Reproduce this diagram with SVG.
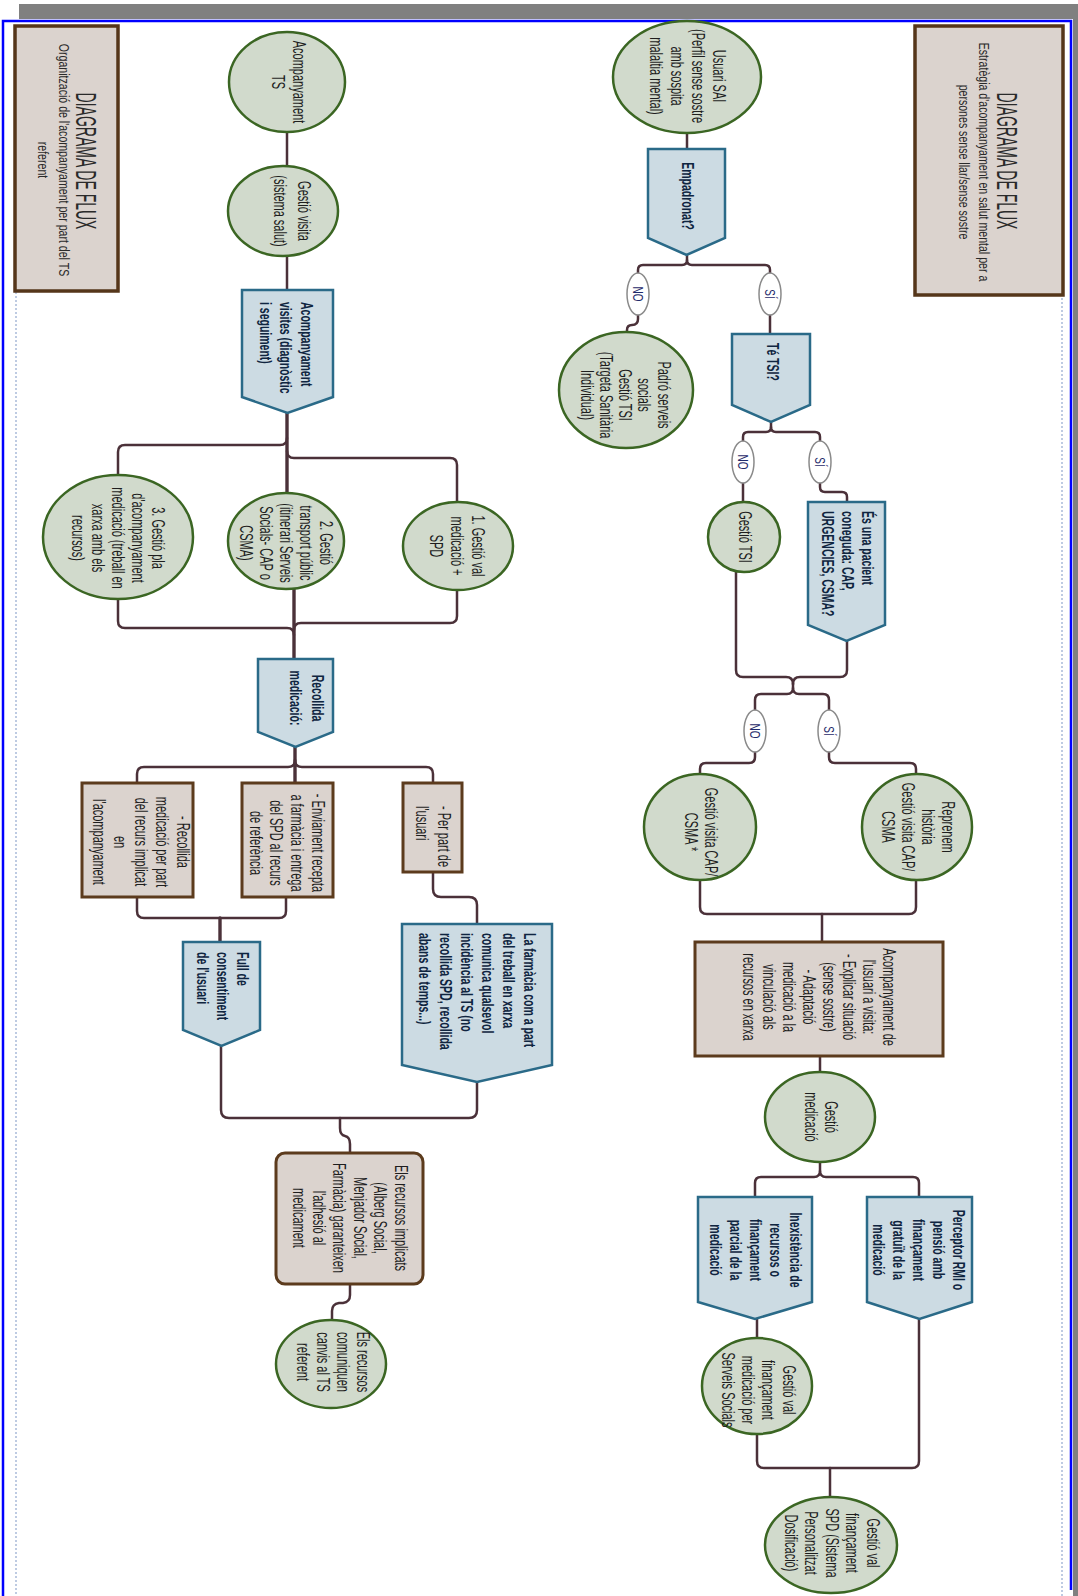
<svg xmlns="http://www.w3.org/2000/svg" width="1078" height="1596" viewBox="0 0 1078 1596">
<style>
.c{fill:#d1dacc;stroke:#3b6623;stroke-width:2.5}
.b{fill:#ccdbe3;stroke:#2a6a88;stroke-width:2.5}
.r{fill:#dbd3ce;stroke:#5c3b1d;stroke-width:3}
.h{fill:#dbd3ce;stroke:#55361a;stroke-width:3.5}
.l{fill:#fff;stroke:#8a8a8a;stroke-width:1.5}
.k{fill:none;stroke:#4b3139;stroke-width:2.5;stroke-linecap:round;stroke-linejoin:round}
.k2{fill:none;stroke:#4b3139;stroke-width:3.4;stroke-linecap:round}
text{font-family:"Liberation Sans",Arial,sans-serif;font-size:11px;fill:#1e1e1e;text-anchor:middle}
text.s{text-anchor:start}
text.bb{font-weight:bold;font-size:10.5px;fill:#0f2540}
text.lb{font-size:10px;fill:#1f2a6b}
text.tt{font-size:14px;fill:#2a2a2a}
text.st{font-size:10.6px;fill:#2a2a2a}
</style>
<rect x="19" y="4" width="1059" height="15" fill="#808080"/>
<rect x="1073" y="4" width="5" height="1592" fill="#808080"/>
<path d="M3,1596 V21 H1071 V1590" fill="none" stroke="#0000ff" stroke-width="2.5"/>
<line x1="16" y1="292" x2="16" y2="1596" stroke="#a9bbd9" stroke-width="1.5" stroke-dasharray="2 2"/>
<line x1="1062" y1="298" x2="1062" y2="1596" stroke="#a9bbd9" stroke-width="1.5" stroke-dasharray="2 2"/>

<g id="connectors">
<path class="k" d="M687,133 V149"/>
<path class="k" d="M687,255 V260 Q687,265 682,265 H643 Q638,265 638,270 V273"/>
<path class="k" d="M687,260 Q687,265 692,265 H765 Q770,265 770,270 V273"/>
<path class="k" d="M638,315 V319 Q638,325 632,325 Q627,325 627,330 V333"/>
<path class="k" d="M770,315 V334"/>
<path class="k" d="M771,422 V427 Q771,432 766,432 H748 Q743,432 743,437 V441"/>
<path class="k" d="M771,427 Q771,432 776,432 H815 Q820,432 820,437 V441"/>
<path class="k" d="M743,483 V502"/>
<path class="k" d="M820,483 V487 Q820,492 825,492 H842 Q847,492 847,497 V502"/>
<path class="k" d="M736,572 V670 Q736,677 743,677 H786 Q793,677 793,684"/>
<path class="k" d="M847,641 V670 Q847,677 840,677 H800 Q793,677 793,684"/>
<path class="k" d="M793,684 V688 Q793,694 787,694 H761 Q755,694 755,700 V710"/>
<path class="k" d="M793,688 Q793,694 799,694 H823 Q829,694 829,700 V710"/>
<path class="k" d="M755,752 V757 Q755,763 749,763 H706 Q700,763 700,769 V775"/>
<path class="k" d="M829,752 V757 Q829,763 835,763 H910 Q916,763 916,769 V775"/>
<path class="k" d="M700,880 V907 Q700,914 707,914 H909 Q916,914 916,907 V880"/>
<path class="k" d="M822,914 V942"/>
<path class="k" d="M820,1056 V1073"/>
<path class="k" d="M820,1162 V1171 Q820,1177 814,1177 H761 Q755,1177 755,1183 V1197"/>
<path class="k" d="M820,1171 Q820,1177 826,1177 H913 Q919,1177 919,1183 V1197"/>
<path class="k" d="M757,1319 V1337"/>
<path class="k" d="M757,1434 V1461 Q757,1468 764,1468 H912 Q919,1468 919,1461 V1319"/>
<path class="k" d="M830,1468 V1497"/>
<path class="k" d="M287,132 V167"/>
<path class="k" d="M287,256 V290"/>
<path class="k2" d="M287,413 V493"/>
<path class="k" d="M287,438 Q287,445 280,445 H125 Q118,445 118,452 V475"/>
<path class="k" d="M287,451 Q287,458 294,458 H450 Q457,458 457,465 V502"/>
<path class="k" d="M118,599 V621 Q118,628 125,628 H287 Q294,628 294,635"/>
<path class="k" d="M457,590 V616 Q457,623 450,623 H301 Q294,623 294,630"/>
<path class="k2" d="M294,589 V659"/>
<path class="k2" d="M295,747 V783"/>
<path class="k" d="M295,760 Q295,767 288,767 H144 Q137,767 137,774 V783"/>
<path class="k" d="M295,760 Q295,767 302,767 H426 Q433,767 433,774 V783"/>
<path class="k" d="M137,897 V911 Q137,918 144,918 H279 Q286,918 286,911 V897"/>
<path class="k2" d="M220,918 V942"/>
<path class="k" d="M433,872 V889 Q433,897 441,897 H469 Q477,897 477,905 V924"/>
<path class="k" d="M221,1046 V1110 Q221,1118 229,1118 H469 Q477,1118 477,1110 V1082"/>
<path class="k" d="M340,1118 V1128 Q340,1135 345,1136 Q350,1137 350,1144 V1153"/>
<path class="k" d="M350,1284 V1295 Q350,1302 343,1303 H339 Q332,1304 332,1311 V1320"/>
</g>

<g id="labels">
<ellipse class="l" cx="638" cy="294" rx="11" ry="21"/>
<g transform="translate(632.6,294) rotate(90) scale(1,1.5)"><text class="lb">NO</text></g>
<ellipse class="l" cx="770" cy="294" rx="11" ry="21"/>
<g transform="translate(764.6,294) rotate(90) scale(1,1.5)"><text class="lb">SÍ</text></g>
<ellipse class="l" cx="743" cy="462" rx="11" ry="21"/>
<g transform="translate(737.6,462) rotate(90) scale(1,1.5)"><text class="lb">NO</text></g>
<ellipse class="l" cx="820" cy="462" rx="11" ry="21"/>
<g transform="translate(814.6,462) rotate(90) scale(1,1.5)"><text class="lb">SÍ</text></g>
<ellipse class="l" cx="755" cy="731" rx="11" ry="21"/>
<g transform="translate(749.6,731) rotate(90) scale(1,1.5)"><text class="lb">NO</text></g>
<ellipse class="l" cx="829" cy="731" rx="11" ry="21"/>
<g transform="translate(823.6,731) rotate(90) scale(1,1.5)"><text class="lb">SÍ</text></g>
</g>

<g id="title-right">
<rect class="h" x="915" y="26" width="148" height="269"/>
<g transform="translate(997.4,161) rotate(90) scale(1,2.1)"><text class="tt">DIAGRAMA DE FLUX</text></g>
<g transform="translate(978.5,162) rotate(90) scale(1,1.4)"><text class="st"><tspan x="0" y="0">Estratègia d'acompanyament en salut mental per a</tspan><tspan x="0" dy="13.6">persones sense llar/sense sostre</tspan></text></g>
</g>
<g id="title-left">
<rect class="h" x="15" y="26" width="103" height="265"/>
<g transform="translate(76.4,161) rotate(90) scale(1,2.1)"><text class="tt">DIAGRAMA DE FLUX</text></g>
<g transform="translate(58.5,160) rotate(90) scale(1,1.4)"><text class="st"><tspan x="0" y="0">Organització de l'acompanyament per part del TS</tspan><tspan x="0" dy="14.3">referent</tspan></text></g>
</g>

<g id="usuari-sai">
<ellipse class="c" cx="687" cy="77" rx="74" ry="56"/>
<g transform="translate(712.5,76) rotate(90) scale(1,1.6)"><text><tspan x="0" y="0">Usuari SAI</tspan><tspan x="0" dy="13.1">(Perfil sense sostre</tspan><tspan x="0" dy="13.1">amb sospita</tspan><tspan x="0" dy="13.1">malaltia mental)</tspan></text></g>
</g>
<g id="empadronat">
<path class="b" d="M648,149 H725 V238 L686.5,255 L648,238 Z"/>
<g transform="translate(681.5,196) rotate(90) scale(1,1.6)"><text class="bb">Empadronat?</text></g>
</g>
<g id="padro">
<ellipse class="c" cx="626" cy="390" rx="67" ry="58"/>
<g transform="translate(657.5,395) rotate(90) scale(1,1.6)"><text><tspan x="0" y="0">Padró serveis</tspan><tspan x="0" dy="11.9">socials</tspan><tspan x="0" dy="11.9">Gestió TSI</tspan><tspan x="0" dy="11.9">(Targeta Sanitària</tspan><tspan x="0" dy="11.9">Individual)</tspan></text></g>
</g>
<g id="te-tsi">
<path class="b" d="M732,334 H810 V405 L771,422 L732,405 Z"/>
<g transform="translate(766.5,362) rotate(90) scale(1,1.6)"><text class="bb">Té TSI?</text></g>
</g>
<g id="gestio-tsi">
<ellipse class="c" cx="744" cy="537" rx="36" ry="35"/>
<g transform="translate(738.5,537) rotate(90) scale(1,1.6)"><text>Gestió TSI</text></g>
</g>
<g id="pacient-coneguda">
<path class="b" d="M808,502 H885 V625 L846.5,641 L808,625 Z"/>
<g transform="translate(861.5,511) rotate(90) scale(1,1.6)"><text class="bb s"><tspan x="0" y="0">És una pacient</tspan><tspan x="0" dy="12.5">coneguda: CAP,</tspan><tspan x="0" dy="12.5">URGENCIES, CSMA?</tspan></text></g>
</g>
<g id="gestio-visita-cap">
<ellipse class="c" cx="700" cy="827" rx="56" ry="53"/>
<g transform="translate(704.5,832) rotate(90) scale(1,1.6)"><text><tspan x="0" y="0">Gestió visita CAP/</tspan><tspan x="0" dy="12.5">CSMA *</tspan></text></g>
</g>
<g id="reprenem">
<ellipse class="c" cx="917" cy="827" rx="55" ry="53"/>
<g transform="translate(941.5,827) rotate(90) scale(1,1.6)"><text><tspan x="0" y="0">Reprenem</tspan><tspan x="0" dy="12.5">història</tspan><tspan x="0" dy="12.5">Gestió visita CAP/</tspan><tspan x="0" dy="12.5">CSMA</tspan></text></g>
</g>
<g id="acompanyament-visita">
<rect class="r" x="695" y="942" width="248" height="114"/>
<g transform="translate(882.5,997) rotate(90) scale(1,1.6)"><text><tspan x="0" y="0">Acompanyament de</tspan><tspan x="0" dy="12.5">l'usuari a visita:</tspan><tspan x="0" dy="12.5">- Explicar situació</tspan><tspan x="0" dy="12.5">(sense sostre)</tspan><tspan x="0" dy="12.5">- Adaptació</tspan><tspan x="0" dy="12.5">medicació a la</tspan><tspan x="0" dy="12.5">vinculació als</tspan><tspan x="0" dy="12.5">recursos en xarxa</tspan></text></g>
</g>
<g id="gestio-medicacio">
<ellipse class="c" cx="820" cy="1117" rx="55" ry="45"/>
<g transform="translate(824.5,1117) rotate(90) scale(1,1.6)"><text><tspan x="0" y="0">Gestió</tspan><tspan x="0" dy="12.5">medicació</tspan></text></g>
</g>
<g id="inexistencia">
<path class="b" d="M698,1197 H812 V1302 L755,1319 L698,1302 Z"/>
<g transform="translate(789.5,1250) rotate(90) scale(1,1.6)"><text class="bb"><tspan x="0" y="0">Inexistència de</tspan><tspan x="0" dy="12.5">recursos o</tspan><tspan x="0" dy="12.5">finançament</tspan><tspan x="0" dy="12.5">parcial de la</tspan><tspan x="0" dy="12.5">medicació</tspan></text></g>
</g>
<g id="perceptor">
<path class="b" d="M867,1197 H972 V1302 L919.5,1319 L867,1302 Z"/>
<g transform="translate(952.5,1250) rotate(90) scale(1,1.6)"><text class="bb"><tspan x="0" y="0">Perceptor RMI o</tspan><tspan x="0" dy="12.5">pensió amb</tspan><tspan x="0" dy="12.5">finançament</tspan><tspan x="0" dy="12.5">gratuït de la</tspan><tspan x="0" dy="12.5">medicació</tspan></text></g>
</g>
<g id="val-serveis-socials">
<ellipse class="c" cx="757" cy="1386" rx="55" ry="48"/>
<g transform="translate(782.5,1390) rotate(90) scale(1,1.6)"><text><tspan x="0" y="0">Gestió val</tspan><tspan x="0" dy="12.7">finançament</tspan><tspan x="0" dy="12.7">medicació per</tspan><tspan x="0" dy="12.7">Serveis Socials</tspan></text></g>
</g>
<g id="val-spd">
<ellipse class="c" cx="831" cy="1545" rx="66" ry="48"/>
<g transform="translate(866.5,1543) rotate(90) scale(1,1.6)"><text><tspan x="0" y="0">Gestió val</tspan><tspan x="0" dy="12.8">finançament</tspan><tspan x="0" dy="12.8">SPD (Sistema</tspan><tspan x="0" dy="12.8">Personalitzat</tspan><tspan x="0" dy="12.8">Dosificació)</tspan></text></g>
</g>

<g id="acompanyament-ts">
<ellipse class="c" cx="287" cy="82" rx="58" ry="50"/>
<g transform="translate(292.5,82) rotate(90) scale(1,1.6)"><text><tspan x="0" y="0">Acompanyament</tspan><tspan x="0" dy="13.1">TS</tspan></text></g>
</g>
<g id="gestio-visita">
<ellipse class="c" cx="283" cy="211" rx="55" ry="45"/>
<g transform="translate(297.5,211) rotate(90) scale(1,1.6)"><text><tspan x="0" y="0">Gestió visita</tspan><tspan x="0" dy="15">(sistema salut)</tspan></text></g>
</g>
<g id="acompanyament-visites">
<path class="b" d="M242,290 H333 V397 L287.5,413 L242,397 Z"/>
<g transform="translate(300.5,302) rotate(90) scale(1,1.6)"><text class="bb s"><tspan x="0" y="0">Acompanyament</tspan><tspan x="0" dy="12.8">visites (diagnòstic</tspan><tspan x="0" dy="12.8">i seguiment)</tspan></text></g>
</g>
<g id="gestio-pla">
<ellipse class="c" cx="118" cy="537" rx="75" ry="62"/>
<g transform="translate(151.5,538) rotate(90) scale(1,1.6)"><text><tspan x="0" y="0">3. Gestió pla</tspan><tspan x="0" dy="12.5">d'acompanyament</tspan><tspan x="0" dy="12.5">medicació (treball en</tspan><tspan x="0" dy="12.5">xarxa amb els</tspan><tspan x="0" dy="12.5">recursos)</tspan></text></g>
</g>
<g id="gestio-transport">
<ellipse class="c" cx="286" cy="541" rx="58" ry="48"/>
<g transform="translate(319.5,543) rotate(90) scale(1,1.6)"><text><tspan x="0" y="0">2. Gestió</tspan><tspan x="0" dy="12.5">transport públic</tspan><tspan x="0" dy="12.5">(itinerari Serveis</tspan><tspan x="0" dy="12.5">Socials- CAP o</tspan><tspan x="0" dy="12.5">CSMA)</tspan></text></g>
</g>
<g id="gestio-val">
<ellipse class="c" cx="458" cy="546" rx="55" ry="44"/>
<g transform="translate(471.5,546) rotate(90) scale(1,1.6)"><text><tspan x="0" y="0">1. Gestió val</tspan><tspan x="0" dy="13.1">medicació +</tspan><tspan x="0" dy="13.1">SPD</tspan></text></g>
</g>
<g id="recollida">
<path class="b" d="M258,659 H333 V732 L295.5,747 L258,732 Z"/>
<g transform="translate(311.5,698) rotate(90) scale(1,1.6)"><text class="bb"><tspan x="0" y="0">Recollida</tspan><tspan x="0" dy="13.75">medicació:</tspan></text></g>
</g>
<g id="recollida-recurs">
<rect class="r" x="82" y="783" width="111" height="114"/>
<g transform="translate(176.5,842) rotate(90) scale(1,1.6)"><text><tspan x="0" y="0">- Recollida</tspan><tspan x="0" dy="13.1">medicació per part</tspan><tspan x="0" dy="13.1">del recurs implicat</tspan><tspan x="0" dy="13.1">en</tspan><tspan x="0" dy="13.1">l'acompanyament</tspan></text></g>
</g>
<g id="enviament">
<rect class="r" x="242" y="783" width="91" height="114"/>
<g transform="translate(311.5,843) rotate(90) scale(1,1.6)"><text><tspan x="0" y="0">- Enviament recepta</tspan><tspan x="0" dy="12.9">a farmàcia i entrega</tspan><tspan x="0" dy="12.9">del SPD al recurs</tspan><tspan x="0" dy="12.9">de referència</tspan></text></g>
</g>
<g id="per-part-usuari">
<rect class="r" x="403" y="783" width="59" height="89"/>
<g transform="translate(437.5,806) rotate(90) scale(1,1.6)"><text class="s"><tspan x="0" y="0">- Per part de</tspan><tspan x="0" dy="13.75">l'usuari</tspan></text></g>
</g>
<g id="full-consentiment">
<path class="b" d="M183,942 H260 V1030 L221.5,1046 L183,1030 Z"/>
<g transform="translate(236.5,952) rotate(90) scale(1,1.6)"><text class="bb s"><tspan x="0" y="0">Full de</tspan><tspan x="0" dy="12.5">consentiment</tspan><tspan x="0" dy="12.5">de l'usuari</tspan></text></g>
</g>
<g id="farmacia">
<path class="b" d="M402,924 H552 V1065 L477,1082 L402,1065 Z"/>
<g transform="translate(523.5,933) rotate(90) scale(1,1.6)"><text class="bb s"><tspan x="0" y="0">La farmàcia com a part</tspan><tspan x="0" dy="13.1">del treball en xarxa</tspan><tspan x="0" dy="13.1">comunica qualsevol</tspan><tspan x="0" dy="13.1">incidència al TS (no</tspan><tspan x="0" dy="13.1">recollida SPD, recollida</tspan><tspan x="0" dy="13.1">abans de temps...)</tspan></text></g>
</g>
<g id="recursos-implicats">
<rect class="r" x="276" y="1153" width="147" height="131" rx="9" stroke-width="2.5"/>
<g transform="translate(394.5,1218) rotate(90) scale(1,1.6)"><text><tspan x="0" y="0">Els recursos implicats</tspan><tspan x="0" dy="12.75">(Alberg Social,</tspan><tspan x="0" dy="12.75">Menjador Social,</tspan><tspan x="0" dy="12.75">Farmàcia) garanteixen</tspan><tspan x="0" dy="12.75">l'adhesió al</tspan><tspan x="0" dy="12.75">medicament</tspan></text></g>
</g>
<g id="recursos-comuniquen">
<ellipse class="c" cx="331" cy="1364" rx="55" ry="44"/>
<g transform="translate(356.5,1362) rotate(90) scale(1,1.6)"><text><tspan x="0" y="0">Els recursos</tspan><tspan x="0" dy="12.5">comuniquen</tspan><tspan x="0" dy="12.5">canvis al TS</tspan><tspan x="0" dy="12.5">referent</tspan></text></g>
</g>
</svg>
